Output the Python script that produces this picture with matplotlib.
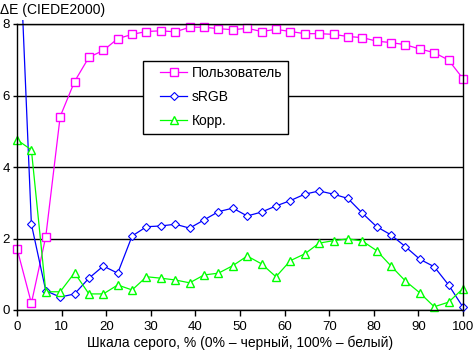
import matplotlib
matplotlib.use("Agg")
import matplotlib.pyplot as plt
import numpy as np
from matplotlib.transforms import Bbox, TransformedBbox
from matplotlib.legend_handler import HandlerLine2D

plt.rcParams["font.family"] = ["Liberation Sans", "DejaVu Sans"]
plt.rcParams["font.size"] = 10

# 32 grey levels, 0..100 %
x = np.linspace(0, 100, 32)

user = [1.72, 0.19, 2.05, 5.41, 6.39, 7.07, 7.26, 7.59, 7.71, 7.79, 7.81, 7.78,
        7.91, 7.91, 7.87, 7.84, 7.88, 7.79, 7.85, 7.79, 7.73, 7.73, 7.71, 7.65,
        7.62, 7.52, 7.48, 7.42, 7.30, 7.20, 6.99, 6.47]
srgb = [12.0, 2.40, 0.54, 0.36, 0.45, 0.89, 1.23, 1.03, 2.07, 2.33, 2.35, 2.40,
        2.29, 2.52, 2.75, 2.85, 2.63, 2.74, 2.91, 3.06, 3.24, 3.33, 3.24, 3.12,
        2.71, 2.33, 2.10, 1.77, 1.42, 1.21, 0.70, 0.08]
corr = [4.76, 4.48, 0.51, 0.51, 1.04, 0.45, 0.45, 0.70, 0.56, 0.93, 0.89, 0.84,
        0.76, 0.98, 1.03, 1.24, 1.51, 1.29, 0.93, 1.38, 1.57, 1.87, 1.94, 1.99,
        1.93, 1.66, 1.23, 0.81, 0.48, 0.09, 0.22, 0.60]

fig = plt.figure(figsize=(4.73, 3.53), dpi=100)
ax = fig.add_axes([17 / 473, 1 - 310 / 353, 446 / 473, 286 / 353])

# clip slightly outside the plot area so edge markers stay whole
clip = TransformedBbox(Bbox([[-0.03, -0.04], [1.03, 1.015]]), ax.transAxes)

lines = []
lines += ax.plot(x, user, "-", color="#ff00ff", lw=0.9, marker="s", ms=5.2,
                 mfc="white", mec="#ff00ff", mew=1.0, label="Пользователь")
lines += ax.plot(x, srgb, "-", color="#0000ff", lw=0.9, marker="D", ms=4.4,
                 mfc="white", mec="#0000ff", mew=0.8, label="sRGB")
lines += ax.plot(x, corr, "-", color="#00ff00", lw=0.9, marker="^", ms=6.0,
                 mfc="white", mec="#00ff00", mew=1.0, label="Корр.")
for ln in lines:
    ln.set_clip_box(clip)

ax.set_xlim(0, 100)
ax.set_ylim(0, 8)
ax.set_xticks(range(0, 101, 10))
ax.set_yticks([0, 2, 4, 6, 8])
ax.yaxis.grid(True, color="black", lw=1.0)
ax.set_axisbelow(True)
for s in ["left", "right", "bottom", "top"]:
    ax.spines[s].set_color("black")
    ax.spines[s].set_linewidth(1.0)
ax.tick_params(axis="x", direction="out", length=4, width=1, pad=4,
               labelsize=9.5)
ax.tick_params(axis="y", direction="out", length=3, width=1, pad=2,
               labelsize=9.5)

ax.set_xlabel("Шкала серого, % (0% – черный, 100% – белый)", labelpad=2)
fig.text(0.0, 1 - 14 / 353, "ΔE (CIEDE2000)", ha="left", va="baseline")

hmap = {ln: HandlerLine2D(xpad=0.82) for ln in lines}
leg = ax.legend(handles=lines, handler_map=hmap, loc="upper left",
                bbox_to_anchor=(0.282, 0.0, 0.325, 0.872), mode="expand",
                frameon=True, fancybox=False, edgecolor="black",
                handlelength=2.82, borderpad=0.4, labelspacing=0.72,
                handletextpad=0.3, borderaxespad=0)
leg.get_frame().set_linewidth(1.0)
leg.get_frame().set_alpha(1)

fig.savefig("out.png", dpi=100)
